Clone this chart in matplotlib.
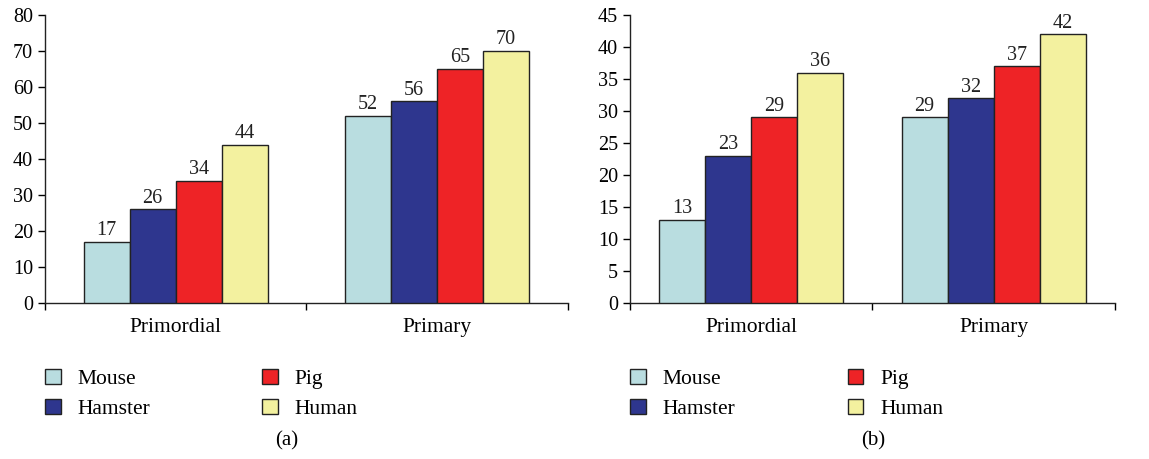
import matplotlib
matplotlib.use("Agg")
import matplotlib.pyplot as plt
import numpy as np
from matplotlib.patches import Patch

plt.rcParams['font.family'] = ['Liberation Serif', 'DejaVu Serif']

categories = ["Primordial", "Primary"]
species = ["Mouse", "Hamster", "Pig", "Human"]
colors = ["#b9dde0", "#2e368e", "#ee2326", "#f3f19f"]

# panel (a)
values_a = {
    "Mouse": [17, 52],
    "Hamster": [26, 56],
    "Pig": [34, 65],
    "Human": [44, 70],
}
# panel (b)
values_b = {
    "Mouse": [13, 29],
    "Hamster": [23, 32],
    "Pig": [29, 37],
    "Human": [36, 42],
}


def draw_panel(ax, values, ymax, ystep, width):
    x = np.arange(len(categories))
    for i, sp in enumerate(species):
        pos = x + (i - 1.5) * width
        bars = ax.bar(pos, values[sp], width, color=colors[i],
                      edgecolor="#222222", linewidth=1.0, zorder=3)
        for b, v in zip(bars, values[sp]):
            ax.text(b.get_x() + b.get_width() / 2, v + ymax * 0.006, str(v),
                    ha="center", va="bottom", fontsize=14.5, color="#222222")
    ax.set_xlim(-0.5, 1.5)
    ax.set_ylim(0, ymax)
    ax.set_yticks(np.arange(0, ymax + 1, ystep))
    ax.set_xticks(x)
    ax.set_xticklabels(categories, fontsize=15.5)
    ax.tick_params(axis="x", which="major", length=0, pad=11)
    ax.set_xticks([-0.5, 0.5, 1.5], minor=True)
    ax.tick_params(axis="x", which="minor", length=5, direction="out", width=1)
    ax.tick_params(axis="y", length=5, direction="out", labelsize=14.5, width=1)
    ax.spines["top"].set_visible(False)
    ax.spines["right"].set_visible(False)
    for s in ("left", "bottom"):
        ax.spines[s].set_linewidth(1.0)
        ax.spines[s].set_color("#222222")


fig = plt.figure(figsize=(11.49, 4.59), dpi=100)
ax_a = fig.add_axes([0.0392, 0.340, 0.455, 0.627])
ax_b = fig.add_axes([0.5483, 0.340, 0.4221, 0.627])

draw_panel(ax_a, values_a, 80, 10, 0.176)
draw_panel(ax_b, values_b, 45, 5, 0.19)

handles = [Patch(facecolor=colors[i], edgecolor="#222222", label=species[i])
           for i in range(4)]
# two legend columns under each panel
for col_x in (45, 262, 630, 848):
    k = 0 if col_x in (45, 630) else 2
    fig.legend(handles[k:k + 2], species[k:k + 2],
               loc="upper left", bbox_to_anchor=(col_x / 1149, 1 - 369 / 459),
               frameon=False, fontsize=15.5, handlelength=0.72, handleheight=0.72,
               labelspacing=0.45, handletextpad=0.8, borderpad=0, borderaxespad=0)

fig.text(0.2498, 0.039, "(a)", ha="center", va="center", fontsize=15)
fig.text(0.7598, 0.039, "(b)", ha="center", va="center", fontsize=15)

fig.savefig("out.png", dpi=100)
